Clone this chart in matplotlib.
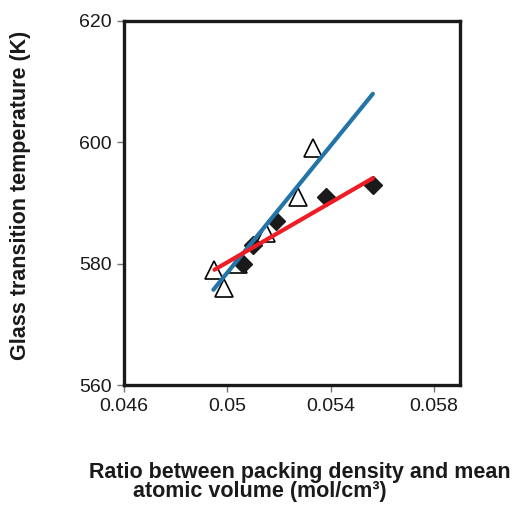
import matplotlib.pyplot as plt

plt.rcParams['font.family'] = ['Liberation Sans', 'DejaVu Sans']

# packing ratio (mol/cm3) vs glass transition temperature (K)
ratio_a = [0.0495, 0.04988, 0.05043, 0.05151, 0.05272, 0.0533]
tg_a = [579, 576, 580, 585, 591, 599]

ratio_b = [0.05062, 0.05101, 0.0519, 0.0538, 0.05563]
tg_b = [580, 583, 587, 591, 593]

# trend lines (end points)
trend_a_x = [0.04946, 0.05563]
trend_a_y = [575.7, 608.0]
trend_b_x = [0.0495, 0.05563]
trend_b_y = [579.0, 594.1]

x_ticks = [0.046, 0.05, 0.054, 0.058]
x_tick_labels = ['0.046', '0.05', '0.054', '0.058']
y_ticks = [560, 580, 600, 620]

fig = plt.figure(figsize=(5.17, 5.07), dpi=100)
ax = fig.add_axes([0.2398, 0.2406, 0.6499, 0.718])

ax.plot(ratio_a, tg_a, linestyle='none', marker='^', markersize=13,
        markerfacecolor='white', markeredgecolor='black', markeredgewidth=1.2, zorder=2)
ax.plot(ratio_b, tg_b, linestyle='none', marker='D', markersize=9.5,
        color='#1a1a1a', zorder=2)
ax.plot(trend_a_x, trend_a_y, color='#2474a8', linewidth=3, solid_capstyle='round', zorder=3)
ax.plot(trend_b_x, trend_b_y, color='#ee1c25', linewidth=3, solid_capstyle='round', zorder=3)

ax.set_xlim(0.046, 0.059)
ax.set_ylim(560, 620)
ax.set_xticks(x_ticks)
ax.set_xticklabels(x_tick_labels)
ax.set_yticks(y_ticks)
ax.tick_params(direction='out', length=5, width=1, color='#777777',
               labelsize=14, labelcolor='#1a1a1a', pad=4)
for s in ax.spines.values():
    s.set_linewidth(2.4)
    s.set_color('#1a1a1a')

fig.text(0.039, 0.615, 'Glass transition temperature (K)', rotation=90,
         ha='center', va='center', fontsize=15.5, fontweight='bold', color='#1a1a1a')
fig.text(0.58, 0.069, 'Ratio between packing density and mean',
         ha='center', va='center', fontsize=15.5, fontweight='bold', color='#1a1a1a')
fig.text(0.503, 0.031, 'atomic volume (mol/cm\u00b3)',
         ha='center', va='center', fontsize=15.5, fontweight='bold', color='#1a1a1a')

fig.savefig('out.png', dpi=100)
